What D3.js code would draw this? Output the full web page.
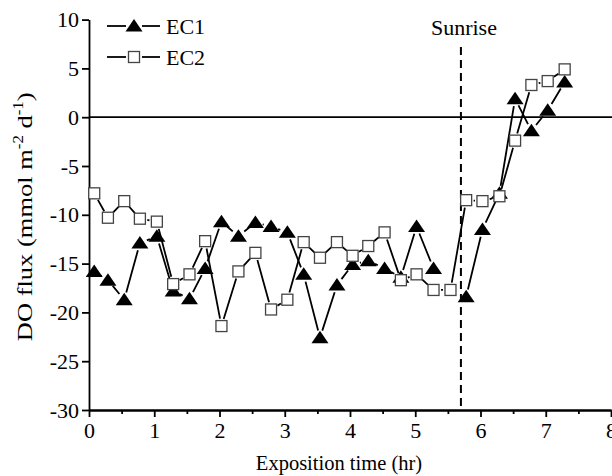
<!DOCTYPE html>
<html>
<head>
<meta charset="utf-8">
<script src="https://cdn.jsdelivr.net/npm/d3@7"></script>
<style>
  body { margin: 0; background: #fff; }
  svg text { font-family: "Liberation Serif", "Times New Roman", serif; fill: #000; }
  .axis path, .axis line { stroke: #000; stroke-width: 1.8; }
</style>
</head>
<body>
<div id="plot"></div>
<script>
// values
var times = [0.08, 0.29, 0.54, 0.78, 1.04, 1.29, 1.54, 1.78, 2.03, 2.29, 2.55, 2.79, 3.04, 3.29, 3.54,
             3.80, 4.04, 4.28, 4.53, 4.78, 5.02, 5.28, 5.54, 5.78, 6.03, 6.29, 6.53, 6.78, 7.03, 7.29];
var ec1 = [-15.8, -16.7, -18.7, -12.9, -12.2, -17.8, -18.6, -15.5, -10.7, -12.2, -10.8, -11.2, -11.8, -16.1, -22.6,
           -17.2, -15.1, -14.7, -15.5, -16.4, -11.2, -15.5, null, -18.4, -11.5, -7.8, 1.9, -1.4, 0.7, 3.6];
var ec2 = [-7.8, -10.3, -8.6, -10.4, -10.7, -17.1, -16.1, -12.7, -21.4, -15.8, -13.9, -19.7, -18.7, -12.8, -14.4,
           -12.8, -14.2, -13.2, -11.8, -16.7, -16.1, -17.7, -17.7, -8.5, -8.6, -8.1, -2.4, 3.3, 3.7, 4.9];
var seriesNames = ["EC1", "EC2"];
var xTicks = [0, 1, 2, 3, 4, 5, 6, 7, 8];
var yTicks = [-30, -25, -20, -15, -10, -5, 0, 5, 10];
var sunrise = 5.7;

var W = 612, H = 476;
var margin = {top: 19.6, right: 1, bottom: 66, left: 89};

var svg = d3.select("#plot")
  .append("svg")
    .attr("width", W)
    .attr("height", H);

var x = d3.scaleLinear().domain([0, 8]).range([margin.left, W - margin.right]);
var y = d3.scaleLinear().domain([-30, 10]).range([H - margin.bottom, margin.top]);
var plainFmt = function(d) { return String(d); };  // hyphen, not unicode minus

// zero line
svg.append("line")
  .attr("x1", x(0)).attr("x2", W)
  .attr("y1", y(0)).attr("y2", y(0))
  .style("stroke", "#000").style("stroke-width", 1.8);

// sunrise line
svg.append("line")
  .attr("x1", x(sunrise)).attr("x2", x(sunrise))
  .attr("y1", 47).attr("y2", y(-30))
  .style("stroke", "#000").style("stroke-width", 2)
  .style("stroke-dasharray", "8,5");
svg.append("text")
  .attr("x", x(sunrise) + 3).attr("y", 35)
  .attr("text-anchor", "middle")
  .style("font-size", "22px")
  .text("Sunrise");

// X axis with minor ticks
svg.append("g").attr("class", "axis")
  .attr("transform", "translate(0," + y(-30) + ")")
  .call(d3.axisBottom(x).tickValues(d3.range(0.5, 8, 1)).tickSize(4).tickFormat("").tickSizeOuter(0));
svg.append("g").attr("class", "axis")
  .attr("transform", "translate(0," + y(-30) + ")")
  .call(d3.axisBottom(x).tickValues(xTicks).tickSize(7).tickSizeOuter(0).tickPadding(5).tickFormat(plainFmt))
  .selectAll("text").style("font-size", "22px");

// Y axis
svg.append("g").attr("class", "axis")
  .attr("transform", "translate(" + x(0) + ",0)")
  .call(d3.axisLeft(y).tickValues(yTicks).tickSize(7).tickSizeOuter(0).tickPadding(3).tickFormat(plainFmt))
  .selectAll("text").style("font-size", "22px");

// axis titles
svg.append("text")
  .attr("text-anchor", "middle")
  .attr("x", 339).attr("y", 470)
  .style("font-size", "20.5px")
  .text("Exposition time (hr)");

var yMid = (y(10) + y(-30)) / 2 + 2;
var yl = svg.append("text")
  .attr("text-anchor", "middle")
  .attr("transform", "translate(32," + yMid + ") rotate(-90)")
  .style("font-size", "22px");
yl.append("tspan").text("DO flux (mmol m");
yl.append("tspan").attr("dy", -9).style("font-size", "14px").text("-2");
yl.append("tspan").attr("dy", 9).text(" d");
yl.append("tspan").attr("dy", -9).style("font-size", "14px").text("-1");
yl.append("tspan").attr("dy", 9).text(")");
// the printed title is drawn longer than its glyph height suggests
var ylLen = yl.node().getComputedTextLength();
yl.attr("transform", "translate(32," + yMid + ") rotate(-90) scale(" + (249 / ylLen) + ",1)");

// lines with a small gap around each symbol
var gap = 7.5;
function gappedPath(vals) {
  var p = "";
  for (var i = 0; i < vals.length - 1; i++) {
    if (vals[i] == null || vals[i + 1] == null) continue;
    var x1 = x(times[i]), y1 = y(vals[i]), x2 = x(times[i + 1]), y2 = y(vals[i + 1]);
    var dx = x2 - x1, dy = y2 - y1, len = Math.sqrt(dx * dx + dy * dy);
    if (len <= 2 * gap) continue;
    var ux = dx / len, uy = dy / len;
    p += "M" + (x1 + ux * gap) + "," + (y1 + uy * gap) + "L" + (x2 - ux * gap) + "," + (y2 - uy * gap);
  }
  return p;
}
[ec1, ec2].forEach(function(vals) {
  svg.append("path")
    .attr("d", gappedPath(vals))
    .style("fill", "none").style("stroke", "#000").style("stroke-width", 1.8);
});

// symbols
var tri = function(cx, cy) {
  return "M" + cx + "," + (cy - 7) + "L" + (cx + 8.5) + "," + (cy + 5.5) + "L" + (cx - 8.5) + "," + (cy + 5.5) + "Z";
};
var sq = 11;
svg.append("g").selectAll("path")
  .data(times.map(function(t, i) { return {t: t, v: ec1[i]}; }).filter(function(d) { return d.v != null; }))
  .enter().append("path")
    .attr("d", function(d) { return tri(x(d.t), y(d.v)); })
    .style("fill", "#000");

svg.append("g").selectAll("rect")
  .data(times.map(function(t, i) { return {t: t, v: ec2[i]}; }))
  .enter().append("rect")
    .attr("x", function(d) { return x(d.t) - sq / 2; })
    .attr("y", function(d) { return y(d.v) - sq / 2; })
    .attr("width", sq).attr("height", sq)
    .style("fill", "#fff").style("stroke", "#444").style("stroke-width", 1.3);

// legend
var legY = [26, 57];
seriesNames.forEach(function(name, i) {
  var g = svg.append("g");
  g.append("line").attr("x1", 107).attr("x2", 126).attr("y1", legY[i]).attr("y2", legY[i])
    .style("stroke", "#000").style("stroke-width", 1.8);
  g.append("line").attr("x1", 142).attr("x2", 160).attr("y1", legY[i]).attr("y2", legY[i])
    .style("stroke", "#000").style("stroke-width", 1.8);
  if (i === 0) {
    g.append("path").attr("d", tri(134, legY[i])).style("fill", "#000");
  } else {
    g.append("rect").attr("x", 134 - sq / 2).attr("y", legY[i] - sq / 2).attr("width", sq).attr("height", sq)
      .style("fill", "#fff").style("stroke", "#444").style("stroke-width", 1.3);
  }
  g.append("text").attr("x", 166).attr("y", legY[i] + 8)
    .style("font-size", "22px")
    .text(name);
});
</script>
</body>
</html>
